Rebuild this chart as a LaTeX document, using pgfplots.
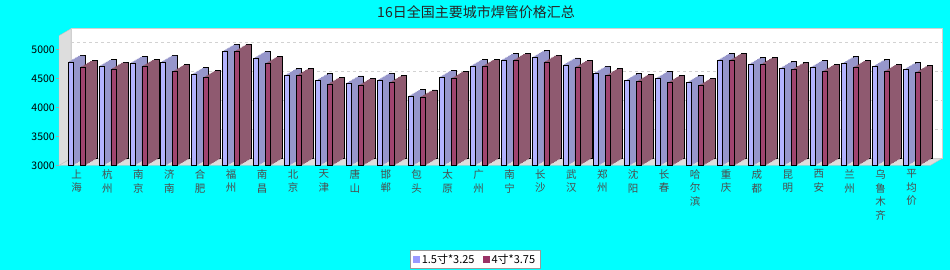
\documentclass[border=0pt]{standalone}
\usepackage{pgfplots}
\pgfplotsset{compat=1.18}
\usepackage{pgfplotstable}
\usepackage{fontspec}
\setmainfont{Noto Sans CJK SC}
\definecolor{bgcyan}{HTML}{00FFFF}
\definecolor{bluefront}{HTML}{B3B3FF}
\definecolor{blueside}{HTML}{9696CB}
\definecolor{redfront}{HTML}{A0446F}
\definecolor{redside}{HTML}{8F5A70}
\definecolor{legblue}{HTML}{9999FF}
\definecolor{legred}{HTML}{993366}
\definecolor{wallgrey}{HTML}{DDDDDD}

\pgfplotstableread{
i b r
0 4780 4690
1 4710 4660
2 4760 4710
3 4780 4620
4 4570 4520
5 4970 4970
6 4850 4760
7 4550 4550
8 4460 4400
9 4420 4380
10 4470 4430
11 4190 4180
12 4520 4500
13 4710 4710
14 4810 4810
15 4860 4780
16 4730 4690
17 4590 4550
18 4460 4450
19 4500 4430
20 4430 4380
21 4810 4810
22 4740 4740
23 4670 4650
24 4690 4620
25 4750 4690
26 4700 4620
27 4650 4600
}\pricetable

\pgfplotsset{
  base/.style={scale only axis, width=871pt, height=129.8pt,
    xmin=-0.566, xmax=27.595, ymin=3000, ymax=5234, anchor=south west},
  bars/.style={base, hide axis, clip=true},
}

\begin{document}
\begin{tikzpicture}
\path[use as bounding box] (0pt,0pt) rectangle (950pt,270pt);
\fill[bgcyan] (0pt,0pt) rectangle (950pt,270pt);

% back wall
\begin{axis}[base, at={(71pt,111.5pt)},
  axis background/.style={fill=white},
  axis line style={draw=gray!35},
  ytick={3000,3500,4000,4500,5000}, yticklabels={}, xtick=\empty,
  ymajorgrids, major grid style={dashed, gray!35},
  major tick length=0pt]
\end{axis}

% left wall and floor
\filldraw[fill=wallgrey, draw=gray!50] (59pt,104.5pt) -- (59pt,234.3pt) -- (71pt,241.3pt) -- (71pt,111.5pt) -- cycle;
\filldraw[fill=wallgrey, draw=gray!50] (59pt,104.5pt) -- (930pt,104.5pt) -- (942pt,111.5pt) -- (71pt,111.5pt) -- cycle;

% blue extrusion
\begin{axis}[bars, at={(71pt,111.5pt)}]
\addplot[ybar, bar width=5pt, bar shift=-6pt, fill=blueside, draw=black, line width=0.7pt] table[x=i,y=b]{\pricetable};
\end{axis}
\foreach \k in {7,6,5,4,3,2,1}{
\begin{axis}[bars, at={({59pt+1.5pt*\k},{104.5pt+0.875pt*\k})}]
\addplot[ybar, bar width=5.6pt, bar shift=-6pt, fill=blueside, draw=none] table[x=i,y=b]{\pricetable};
\end{axis}
}
% blue front
\begin{axis}[bars, at={(59pt,104.5pt)}]
\addplot[ybar, bar width=5pt, bar shift=-6pt, fill=bluefront, draw=black, line width=0.7pt] table[x=i,y=b]{\pricetable};
\end{axis}

% red extrusion
\begin{axis}[bars, at={(71pt,111.5pt)}]
\addplot[ybar, bar width=5pt, bar shift=6pt, fill=redside, draw=black, line width=0.7pt] table[x=i,y=r]{\pricetable};
\end{axis}
\foreach \k in {7,6,5,4,3,2,1}{
\begin{axis}[bars, at={({59pt+1.5pt*\k},{104.5pt+0.875pt*\k})}]
\addplot[ybar, bar width=5.6pt, bar shift=6pt, fill=redside, draw=none] table[x=i,y=r]{\pricetable};
\end{axis}
}
% red front
\begin{axis}[bars, at={(59pt,104.5pt)}]
\addplot[ybar, bar width=5pt, bar shift=6pt, fill=redfront, draw=black, line width=0.7pt] table[x=i,y=r]{\pricetable};
\end{axis}

% mask anything below the front floor edge
\fill[bgcyan] (0pt,0pt) rectangle (950pt,104.1pt);

% y ticks axis
\begin{axis}[base, at={(59pt,104.5pt)},
  axis line style={draw=none},
  /pgf/number format/assume math mode=true,
  /pgf/number format/1000 sep={},
  ytick={3000,3500,4000,4500,5000},
  yticklabel style={font=\fontsize{10.5}{12}\selectfont, text=black, inner sep=1pt},
  ytick pos=left, tick align=outside, major tick length=3pt,
  ytick style={draw=gray!70, thin},
  xtick=\empty]
\end{axis}

% category labels axis
\begin{axis}[base, at={(59pt,104.5pt)},
  axis line style={draw=none},
  ytick=\empty,
  xtick={0,1,...,27}, xtick pos=lower, major tick length=0pt,
  xticklabels={{上\\海},{杭\\州},{南\\京},{济\\南},{合\\肥},{福\\州},{南\\昌},{北\\京},{天\\津},{唐\\山},{邯\\郸},{包\\头},{太\\原},{广\\州},{南\\宁},{长\\沙},{武\\汉},{郑\\州},{沈\\阳},{长\\春},{哈\\尔\\滨},{重\\庆},{成\\都},{昆\\明},{西\\安},{兰\\州},{乌\\鲁\\木\\齐},{平\\均\\价}},
  xticklabel style={align=center, font=\fontsize{10.5}{13.5}\selectfont, text=black!70, anchor=north, inner sep=0pt, yshift=-4pt},
  legend columns=2,
  legend style={at={(0.4776,-0.724)}, anchor=center, draw=gray!80, fill=white,
    font=\fontsize{11}{13}\selectfont, inner xsep=3pt, inner ysep=1.5pt,
    /tikz/every even column/.append style={column sep=6pt}},
  legend image code/.code={\path[#1] (0pt,-3.5pt) rectangle (7pt,3.5pt);},
]
\addlegendimage{fill=legblue, draw=none}
\addlegendentry{1.5寸*3.25}
\addlegendimage{fill=legred, draw=none}
\addlegendentry{4寸*3.75}
\end{axis}

\node[font=\fontsize{14}{16}\selectfont, text=black!85] at (476pt,258pt) {16日全国主要城市焊管价格汇总};

% narrow cover over the gap between two labels
\fill[bgcyan] (499pt,38pt) rectangle (503.5pt,104.1pt);
\end{tikzpicture}
\end{document}
